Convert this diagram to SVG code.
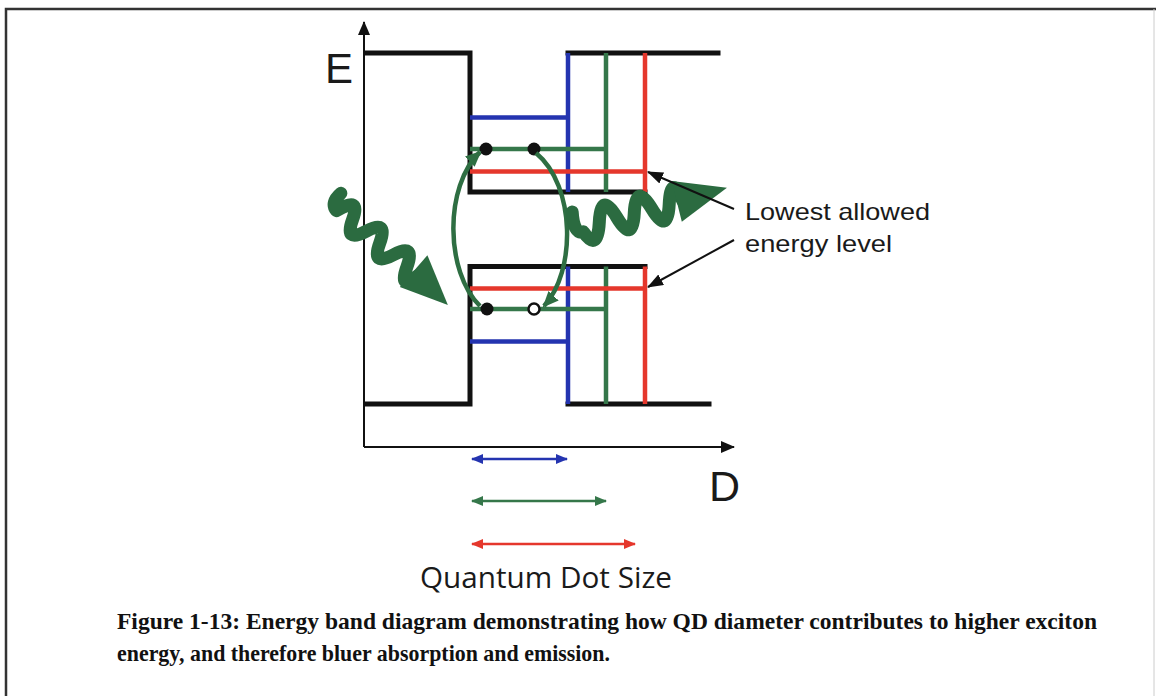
<svg xmlns="http://www.w3.org/2000/svg" width="1156" height="696" viewBox="0 0 1156 696">
<style>
.band{fill:none;stroke:#111;stroke-width:5;stroke-linecap:square}
.b{stroke:#2434b0;stroke-width:4.5;fill:none}
.g{stroke:#35774a;stroke-width:4.5;fill:none}
.r{stroke:#e5372c;stroke-width:4.5;fill:none}
.axis{stroke:#111;stroke-width:2;fill:none}
.wave{fill:none;stroke:#2b6b40;stroke-width:13;stroke-linecap:round;stroke-linejoin:round}
.head{fill:#2b6b40}
.sans{font-family:"Liberation Sans",Arial,sans-serif;fill:#1a1a1a}
.cap{font-family:"Liberation Serif","Times New Roman",serif;font-weight:bold;font-size:23px;fill:#111}
</style>
<defs>
<marker id="ax" markerWidth="14" markerHeight="12" refX="13" refY="6" orient="auto" markerUnits="userSpaceOnUse"><path d="M0,0 L14,6 L0,12 z" fill="#111"/></marker>
<marker id="pa" markerWidth="16" markerHeight="12" refX="15" refY="6" orient="auto" markerUnits="userSpaceOnUse"><path d="M0,0 L16,6 L0,12 z" fill="#111"/></marker>
<marker id="ga" markerWidth="16" markerHeight="14" refX="14" refY="7" orient="auto" markerUnits="userSpaceOnUse"><path d="M0,0 L16,7 L0,14 z" fill="#2e6e42"/></marker>
<marker id="mb" markerWidth="12" markerHeight="10" refX="11" refY="5" orient="auto-start-reverse" markerUnits="userSpaceOnUse"><path d="M0,0 L12,5 L0,10 z" fill="#2434b0"/></marker>
<marker id="mg" markerWidth="12" markerHeight="10" refX="11" refY="5" orient="auto-start-reverse" markerUnits="userSpaceOnUse"><path d="M0,0 L12,5 L0,10 z" fill="#35774a"/></marker>
<marker id="mr" markerWidth="12" markerHeight="10" refX="11" refY="5" orient="auto-start-reverse" markerUnits="userSpaceOnUse"><path d="M0,0 L12,5 L0,10 z" fill="#e5372c"/></marker>
</defs>
<rect width="1156" height="696" fill="#fff"/>
<g id="frame">
<path d="M6,696 V9 H1156" fill="none" stroke="#333" stroke-width="2.5"/>
<path d="M1154,9 V696" fill="none" stroke="#ccc" stroke-width="1"/>
</g>
<g id="axes">
<path class="axis" d="M364,447 V22" marker-end="url(#ax)"/>
<path class="axis" d="M364,447 H734" marker-end="url(#ax)"/>
<text class="sans" x="325" y="83" font-size="42">E</text>
<text class="sans" x="709" y="501" font-size="43">D</text>
</g>
<g id="conduction-band">
<path class="band" d="M367,53 H470 V192 H645"/>
<path class="band" d="M568,53 H718"/>
<path class="b" d="M470,117.5 H568 M568,53 V192"/>
<path class="g" d="M470,149 H606 M606,53 V192"/>
<path class="r" d="M470,171.5 H645 M645,53 V192"/>
</g>
<g id="valence-band">
<path class="band" d="M367,404 H470 V266.5 H645"/>
<path class="band" d="M568,404 H709"/>
<path class="b" d="M470,341.5 H568 M568,266.5 V404"/>
<path class="g" d="M470,309 H606 M606,266.5 V404"/>
<path class="r" d="M470,288.5 H645 M645,266.5 V404"/>
</g>
<g id="carriers">
<circle cx="486" cy="149" r="6.5" fill="#111"/>
<circle cx="534" cy="149" r="6.5" fill="#111"/>
<circle cx="487" cy="309" r="6.5" fill="#111"/>
<circle cx="534" cy="309" r="5.5" fill="#fff" stroke="#111" stroke-width="2.5"/>
</g>
<g id="exciton-loop">
<path d="M480,306 C445,272 444,186 480,152" fill="none" stroke="#2e6e42" stroke-width="4.5" marker-end="url(#ga)"/>
<path d="M536,153 C576,186 576,272 544,306" fill="none" stroke="#2e6e42" stroke-width="4.5" marker-end="url(#ga)"/>
</g>
<g id="photon-in" transform="translate(336,205) rotate(41)">
<path class="wave" d="M-4,-12 Q-6,2 4,4 Q13,-24 22,0 T40,0 T58,0 T76,0 T94,0 T108,0"/>
<polygon class="head" points="102,-22 150,2 102,20"/>
</g>
<g id="photon-out" transform="translate(578,227) rotate(-14)">
<path class="wave" d="M-2,-16 Q-6,6 4,6 Q13,30 22,0 T40,0 T58,0 T76,0 T94,0 T108,0"/>
<polygon class="head" points="102,-22 154,-2 102,20"/>
</g>
<g id="connectors">
<path d="M734,209 L648,172" stroke="#111" stroke-width="2" fill="none" marker-end="url(#pa)"/>
<path d="M734,240 L648,287" stroke="#111" stroke-width="2" fill="none" marker-end="url(#pa)"/>
</g>
<g id="label">
<text class="sans" x="745" y="219.5" font-size="24" textLength="185" lengthAdjust="spacingAndGlyphs">Lowest allowed</text>
<text class="sans" x="745" y="251.5" font-size="24" textLength="147" lengthAdjust="spacingAndGlyphs">energy level</text>
</g>
<g id="size-arrows">
<path d="M472,459 H567" stroke="#2434b0" stroke-width="2.5" marker-start="url(#mb)" marker-end="url(#mb)"/>
<path d="M472,501 H606" stroke="#35774a" stroke-width="2.5" marker-start="url(#mg)" marker-end="url(#mg)"/>
<path d="M472,544 H635" stroke="#e5372c" stroke-width="2.5" marker-start="url(#mr)" marker-end="url(#mr)"/>
<text x="420" y="588" font-family="'Open Sans','DejaVu Sans',sans-serif" font-size="29.5" fill="#1a1a1a" textLength="252" lengthAdjust="spacingAndGlyphs">Quantum Dot Size</text>
</g>
<g id="caption">
<text class="cap" x="117" y="629" textLength="980" lengthAdjust="spacingAndGlyphs">Figure 1-13: Energy band diagram demonstrating how QD diameter contributes to higher exciton</text>
<text class="cap" x="117" y="661" textLength="493" lengthAdjust="spacingAndGlyphs">energy, and therefore bluer absorption and emission.</text>
</g>
</svg>
